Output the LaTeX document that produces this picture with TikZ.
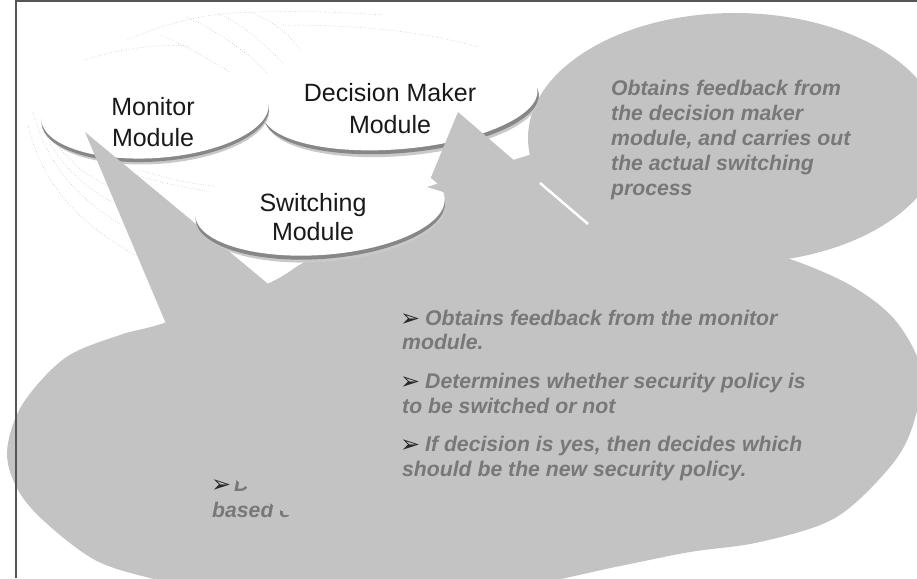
\documentclass[tikz,border=0pt]{standalone}
\usepackage{fontspec}
\setmainfont{Liberation Sans}
\newfontfamily\dvs{DejaVu Sans}
\definecolor{cfill}{RGB}{195,195,195}
\definecolor{ctext}{RGB}{120,120,120}
\definecolor{cframe}{RGB}{85,85,85}
\definecolor{cshadow}{RGB}{135,135,135}
\definecolor{cdots}{RGB}{175,175,175}
\definecolor{clabel}{RGB}{25,25,25}
\definecolor{cbullet}{RGB}{40,40,40}
\begin{document}
\begin{tikzpicture}[x=1pt,y=-1pt,
  callout/.style={fill=cfill},
  modlabel/.style={font=\fontsize{25}{30}\selectfont, text=clabel, inner sep=0pt, anchor=base},
  cotext/.style={font=\fontsize{21.2}{25}\selectfont\bfseries\itshape, text=ctext, inner sep=0pt, anchor=base west},
  bulletmark/.style={font=\dvs\fontsize{24}{26}\selectfont, text=cbullet, inner sep=0pt, anchor=base west},
  ghost/.style={draw=cdots, dotted, line width=0.5pt},
  shadowfar/.style={fill=cshadow!45},
  shadownear/.style={fill=cshadow},
  modfill/.style={fill=white}
]
\useasboundingbox (0,0) rectangle (917,578);
\clip (0,0) rectangle (917,578);

% faint ghost lines of the 3D background
\draw[ghost] (85,60) .. controls (120,48) and (160,44) .. (190,46);
\draw[ghost] (127,40) .. controls (160,25) and (200,15) .. (233,13);
\draw[ghost] (233,13) .. controls (290,10) and (340,12) .. (383,15);
\draw[ghost] (283,25) .. controls (350,25) and (420,30) .. (478,47);
\draw[ghost] (187,17) .. controls (215,30) and (245,50) .. (267,73);
\draw[ghost] (217,13) .. controls (245,25) and (265,45) .. (283,63);
\draw[ghost] (250,12) .. controls (275,22) and (290,35) .. (300,50);
\draw[ghost] (160,35) .. controls (185,45) and (210,60) .. (230,72);
\draw[ghost] (500,62) .. controls (515,70) and (525,78) .. (538,100);
\draw[ghost] (28,125) .. controls (45,200) and (100,235) .. (140,258);
\draw[ghost] (33,112) .. controls (52,185) and (105,218) .. (150,240);
\draw[ghost] (42,126) .. controls (62,178) and (108,205) .. (160,222);
\draw[ghost] (55,140) .. controls (78,178) and (120,195) .. (170,205);
\draw[ghost] (110,166) .. controls (140,178) and (175,186) .. (212,192);
\draw[ghost] (140,170) .. controls (165,178) and (190,184) .. (215,186);

% top-right callout body (switching module description)
\fill[callout] (735,138) ellipse [x radius=207pt, y radius=125pt];

% Decision Maker ellipse
\begin{scope}[rotate around={5:(400,102)}]
\fill[shadowfar] (402,109) ellipse [x radius=137pt, y radius=47pt];
\fill[shadownear] (401,106) ellipse [x radius=138pt, y radius=47pt];
\fill[modfill] (400,102) ellipse [x radius=138pt, y radius=47pt];
\end{scope}

% Monitor ellipse
\begin{scope}[rotate around={4:(155,112)}]
\fill[shadowfar] (156,118) ellipse [x radius=113pt, y radius=46pt];
\fill[shadownear] (155,115.5) ellipse [x radius=114pt, y radius=46pt];
\fill[modfill] (155,112) ellipse [x radius=114pt, y radius=46pt];
\end{scope}

% wedge of the hidden monitor callout
\fill[callout] (85,132) -- (175,345) -- (290,302) -- cycle;

% bottom callout body (decision maker description) and its wedge
\fill[callout] plot[smooth cycle, tension=0.55] coordinates {
 (7,452) (22,405) (65,358) (120,335) (167,322) (267,284) (305,262) (350,246)
 (450,236) (560,232) (650,234) (730,245) (787,258) (850,285) (895,320)
 (921,370) (913,425) (890,467) (835,518) (760,542) (690,552) (620,566)
 (500,590) (350,600) (220,592) (150,578) (95,560) (45,522) (18,490)};
\fill[callout] (458,112) -- (396,262) -- (676,300) -- cycle;

% Switching ellipse
\begin{scope}[rotate around={4:(320,207)}]
\fill[shadowfar] (321,214) ellipse [x radius=124pt, y radius=48pt];
\fill[shadownear] (320,211) ellipse [x radius=125pt, y radius=48pt];
\fill[modfill] (320,207) ellipse [x radius=125pt, y radius=48pt];
\end{scope}

% wedge of the top-right callout
\fill[callout] (427,187) -- (545,150) -- (655,256) -- cycle;
\draw[white, line width=2.5pt] (540,183) -- (588,224);

% frame
\draw[cframe, line width=1.2pt] (16,578) -- (16,1) -- (917,1);

% module labels
\node[modlabel] (mon1) at (153,115) {Monitor};
\node[modlabel] (mon2) at (153,146) {Module};
\node[modlabel] (dec1) at (390,101) {Decision Maker};
\node[modlabel] (dec2) at (390,133) {Module};
\node[modlabel] (sw1) at (313,211) {Switching};
\node[modlabel] (sw2) at (313,240) {Module};

% top-right callout text
\node[cotext] (tr1) at (611,95) {Obtains feedback from};
\node[cotext] (tr2) at (611,120) {the decision maker};
\node[cotext] (tr3) at (611,145) {module, and carries out};
\node[cotext] (tr4) at (611,170) {the actual switching};
\node[cotext] (tr5) at (611,195) {process};

% bottom callout text
\node[bulletmark] (b1) at (400,326) {➢};
\node[cotext] (l1) at (425,325) {Obtains feedback from the monitor};
\node[cotext] (l2) at (402,349) {module.};
\node[bulletmark] (b2) at (400,389) {➢};
\node[cotext] (l3) at (425,388) {Determines whether security policy is};
\node[cotext] (l4) at (402,413) {to be switched or not};
\node[bulletmark] (b3) at (400,452) {➢};
\node[cotext] (l5) at (425,451) {If decision is yes, then decides which};
\node[cotext] (l6) at (402,476) {should be the new security policy.};

% partly hidden text of the monitor callout
\begin{scope}
\clip (190,449.5) -- (330,543) -- (190,543) -- cycle;
\node[bulletmark] (h0) at (211,492) {➢};
\node[cotext] (h1) at (234,491) {D};
\node[cotext] (h2) at (212,517) {based o};
\end{scope}
\end{tikzpicture}
\end{document}
